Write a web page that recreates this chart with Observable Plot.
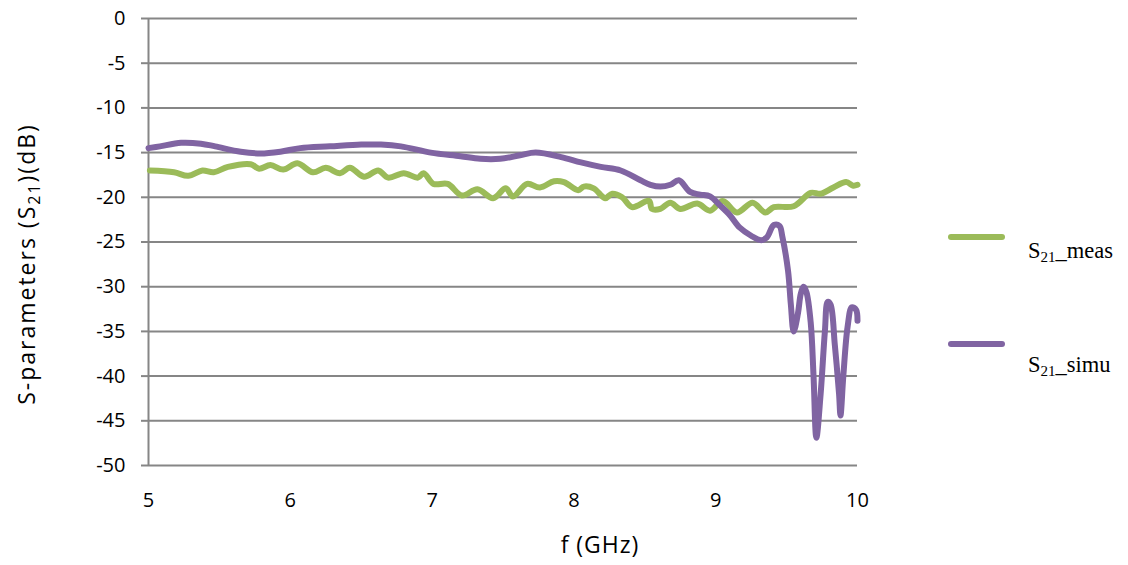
<!DOCTYPE html>
<html>
<head>
<meta charset="utf-8">
<script src="https://cdn.jsdelivr.net/npm/d3@7"></script>
<script src="https://cdn.jsdelivr.net/npm/@observablehq/plot@0.6"></script>
<style>
  html, body { margin: 0; padding: 0; background: #fff; }
  #wrap { position: relative; width: 1128px; height: 565px; }
  .leg { position: absolute; font-family: "Liberation Serif", "Times New Roman", serif; font-size: 22.5px; color: #000; line-height: 1; }
  .leg sub { font-size: 15px; vertical-align: -4px; line-height: 0; }
  .swatch { position: absolute; height: 6px; border-radius: 3px; }
</style>
</head>
<body>
<div id="wrap"></div>
<script>
// ---- data ----
const measFreq = [5.01,5.18,5.28,5.38,5.46,5.56,5.72,5.78,5.86,5.95,6.05,6.16,6.25,6.35,6.42,6.52,6.62,6.69,6.80,6.90,6.94,7.01,7.11,7.21,7.32,7.43,7.52,7.57,7.67,7.76,7.86,7.93,8.03,8.07,8.14,8.22,8.27,8.34,8.41,8.53,8.55,8.61,8.68,8.75,8.87,8.96,9.05,9.15,9.26,9.35,9.41,9.55,9.67,9.74,9.83,9.92,9.97,10.0];
const measDB   = [-17.0,-17.2,-17.6,-17.0,-17.2,-16.6,-16.3,-16.8,-16.4,-16.9,-16.2,-17.2,-16.7,-17.3,-16.7,-17.7,-17.0,-17.8,-17.3,-17.8,-17.3,-18.5,-18.5,-19.8,-19.1,-20.1,-19.0,-19.9,-18.5,-18.9,-18.2,-18.3,-19.2,-18.8,-19.0,-20.1,-19.6,-20.0,-21.1,-20.4,-21.3,-21.3,-20.6,-21.3,-20.7,-21.5,-20.4,-21.7,-20.6,-21.7,-21.1,-21.0,-19.5,-19.6,-18.9,-18.3,-18.7,-18.6];

const simuFreq = [5.00,5.08,5.23,5.37,5.47,5.65,5.79,5.93,6.07,6.28,6.50,6.64,6.78,6.99,7.20,7.34,7.48,7.62,7.73,7.91,8.05,8.19,8.33,8.47,8.54,8.61,8.68,8.74,8.82,8.89,8.96,9.03,9.10,9.17,9.25,9.32,9.36,9.41,9.45,9.47,9.51,9.53,9.55,9.58,9.60,9.62,9.64,9.67,9.69,9.71,9.74,9.77,9.79,9.81,9.84,9.87,9.88,9.90,9.93,9.96,9.99,10.0];
const simuDB   = [-14.5,-14.3,-13.9,-14.0,-14.3,-14.9,-15.1,-14.9,-14.5,-14.3,-14.1,-14.1,-14.3,-15.0,-15.4,-15.7,-15.7,-15.3,-15.0,-15.5,-16.1,-16.6,-17.0,-18.1,-18.6,-18.8,-18.6,-18.1,-19.4,-19.7,-19.9,-20.9,-22.0,-23.4,-24.3,-24.8,-24.5,-23.1,-23.2,-24.4,-28.2,-32.0,-35.0,-33.0,-30.8,-30.0,-30.6,-34.0,-40.0,-46.9,-42.0,-35.0,-31.7,-32.0,-36.5,-42.0,-44.4,-40.0,-34.5,-32.3,-32.6,-33.8];

const xTicks = [5,6,7,8,9,10];
const yTicks = [0,-5,-10,-15,-20,-25,-30,-35,-40,-45,-50];
const seriesNames = ["S21_meas","S21_simu"];
const seriesColors = ["#9BBB59","#8064A2"];

const meas = measFreq.map((f,i)=>({f, v: measDB[i]}));
const simu = simuFreq.map((f,i)=>({f, v: simuDB[i]}));

const grid = "#868686";
const fmt = d => String(d);
const chart = Plot.plot({
  width: 1128,
  height: 565,
  marginLeft: 148,
  marginRight: 271,
  marginTop: 18,
  marginBottom: 100,
  style: { fontFamily: "'Open Sans', sans-serif", fontSize: "20px", color: "#000", background: "#fff", overflow: "visible" },
  x: { domain: [5,10], label: null },
  y: { domain: [-50,0], label: null },
  marks: [
    Plot.ruleY(yTicks, { stroke: grid, strokeWidth: 2 }),
    Plot.ruleX([5], { stroke: grid, strokeWidth: 2 }),
    Plot.axisY({ ticks: yTicks, tickFormat: fmt, tickSize: 7, tickPadding: 16, stroke: grid, strokeWidth: 2, strokeOpacity: 1, label: null, fontSize: 20 }),
    Plot.axisX({ ticks: xTicks, tickFormat: fmt, tickSize: 0, tickPadding: 27, label: null, fontSize: 20 }),
    Plot.line(meas, { x: "f", y: "v", stroke: seriesColors[0], strokeWidth: 6, curve: "catmull-rom" }),
    Plot.line(simu, { x: "f", y: "v", stroke: seriesColors[1], strokeWidth: 6, curve: "catmull-rom" })
  ]
});
document.getElementById("wrap").appendChild(chart);

const svg = d3.select(chart);
// enforce tick-label size
svg.selectAll("g[aria-label$='tick label'], g[aria-label$='tick label'] text").style("font-size", "20px");

// y-axis label with subscript
const yl = svg.append("text")
  .attr("transform", "translate(35,264) rotate(-90)")
  .attr("text-anchor", "middle")
  .attr("font-family", "'Open Sans', sans-serif")
  .style("font-size", "23px")
  .attr("letter-spacing", "2px")
  .attr("fill", "#000");
yl.append("tspan").text("S-parameters (S");
yl.append("tspan").style("font-size", "16px").attr("dy", 5).text("21");
yl.append("tspan").attr("dy", -5).text(")(dB)");
// x-axis label
svg.append("text")
  .attr("x", 600).attr("y", 553)
  .attr("text-anchor", "middle")
  .attr("font-family", "'Open Sans', sans-serif")
  .style("font-size", "23px")
  .attr("letter-spacing", "1px")
  .attr("fill", "#000")
  .text("f (GHz)");

// legend
const wrap = document.getElementById("wrap");
const legPos = [{ly: 234, ty: 240}, {ly: 341, ty: 354}];
seriesNames.forEach((name, i) => {
  const sw = document.createElement("div");
  sw.className = "swatch";
  sw.style.left = "948px"; sw.style.top = legPos[i].ly + "px"; sw.style.width = "57px";
  sw.style.background = seriesColors[i];
  wrap.appendChild(sw);
  const t = document.createElement("div");
  t.className = "leg";
  t.style.left = "1028px"; t.style.top = legPos[i].ty + "px";
  const parts = name.split("21");
  t.innerHTML = parts[0] + "<sub>21</sub>" + parts[1];
  wrap.appendChild(t);
});
</script>
</body>
</html>
